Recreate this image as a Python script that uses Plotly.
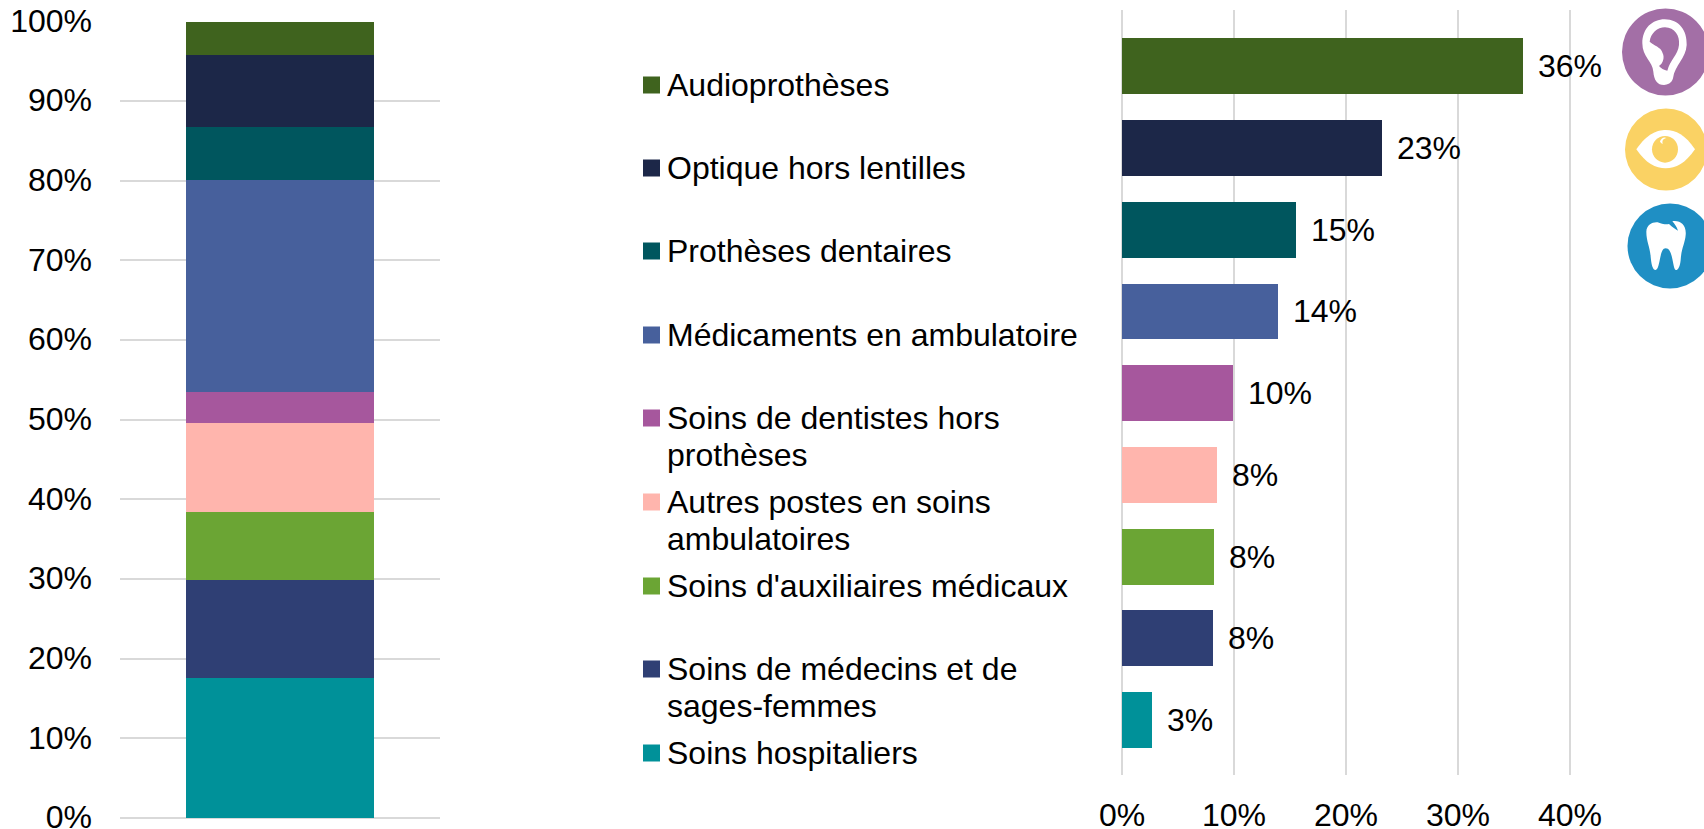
import plotly.graph_objects as go

W, H = 1704, 829
categories = ["Soins hospitaliers", "Soins de médecins et de<br>sages-femmes", "Soins d'auxiliaires médicaux",
              "Autres postes en soins<br>ambulatoires", "Soins de dentistes hors<br>prothèses",
              "Médicaments en ambulatoire", "Prothèses dentaires", "Optique hors lentilles", "Audioprothèses"]
stack_values = [17.7, 12.3, 8.5, 11.1, 4.0, 26.6, 6.6, 9.0, 4.2]
bar_values = [2.7, 8.15, 8.25, 8.5, 9.9, 13.9, 15.5, 23.2, 35.8]
bar_labels = ["3%", "8%", "8%", "8%", "10%", "14%", "15%", "23%", "36%"]
colors = ["#009199", "#2F3F74", "#6BA534", "#FFB5AD", "#A6579D", "#47609C", "#00565E", "#1C2748", "#3F631E"]
legend_y_px = [753, 669, 586, 502, 418, 335, 251, 168, 85]

FONT = "Liberation Sans, Arial, sans-serif"
FS = 32
LINE_PITCH = 37
GRID = "#D9D9D9"

def px(x): return x / W
def py(y): return 1 - y / H

fig = go.Figure()
for c, v, col in zip(categories, stack_values, colors):
    fig.add_trace(go.Bar(x=["a"], y=[v], marker_color=col, marker_line_width=0, width=0.59,
                         name=c.replace("<br>", " "), showlegend=False, xaxis="x", yaxis="y", hoverinfo="skip"))
fig.add_trace(go.Bar(x=bar_values, y=list(range(len(bar_values))), orientation="h",
                     marker_color=colors, marker_line_width=0, width=0.685,
                     showlegend=False, xaxis="x2", yaxis="y2", hoverinfo="skip"))

annotations = []
for i, (v, t) in enumerate(zip(bar_values, bar_labels)):
    annotations.append(dict(x=v, y=i, xref="x2", yref="y2", text=t, showarrow=False, xanchor="left",
                            yanchor="middle", xshift=13, font=dict(family=FONT, size=FS, color="#000000")))

shapes = []
for c, col, y in zip(categories, colors, legend_y_px):
    shapes.append(dict(type="rect", xref="paper", yref="paper", x0=px(643), x1=px(660), y0=py(y + 8.5), y1=py(y - 8.5),
                       fillcolor=col, line_width=0))
    for k, line in enumerate(c.split("<br>")):
        annotations.append(dict(x=px(666), y=py(y + k * LINE_PITCH), xref="paper", yref="paper", text=line,
                                showarrow=False, xanchor="left", yanchor="middle", align="left", borderpad=0,
                                font=dict(family=FONT, size=FS, color="#000000")))

def circle(cx, cy, r, col):
    shapes.append(dict(type="circle", xref="paper", yref="paper", x0=px(cx - r), x1=px(cx + r),
                       y0=py(cy + r), y1=py(cy - r), fillcolor=col, line_width=0, layer="above"))

def icon(d, col):
    # d: list of path commands with coordinates in the zoomed icon frame
    out = []
    for item in d:
        if isinstance(item, str):
            out.append(item)
        else:
            out.append(f"{px(1604 + item[0] / 3):.5f},{py(item[1] / 3):.5f}")
    shapes.append(dict(type="path", xref="paper", yref="paper", path=" ".join(out),
                       fillcolor=col, line_width=0, layer="above"))

circle(1665.5, 52, 43.5, "#A36FA6")
circle(1666, 149.5, 41, "#FAD264")
circle(1670, 246, 42.5, "#1F8FC4")

icon(["M", (115, 130), "C", (115, 85), (145, 58), (182, 58), "C", (225, 58), (250, 92), (248, 135),
      "C", (246, 175), (212, 195), (207, 235), "C", (203, 250), (190, 255), (180, 255),
      "C", (160, 255), (150, 240), (148, 215), "C", (146, 185), (115, 170), (115, 130), "Z"], "#FFFFFF")
icon(["M", (137, 125), "C", (140, 100), (160, 82), (183, 82), "C", (212, 82), (228, 108), (225, 135),
      "C", (222, 165), (198, 180), (190, 212), "C", (180, 210), (170, 205), (165, 198),
      "C", (178, 190), (182, 172), (176, 160), "C", (172, 145), (158, 140), (152, 136),
      "C", (148, 132), (142, 130), (137, 125), "Z"], "#A36FA6")

icon(["M", (97, 448), "C", (130, 400), (160, 390), (185, 390), "C", (215, 390), (245, 405), (273, 448),
      "C", (245, 490), (215, 505), (185, 505), "C", (155, 505), (125, 490), (97, 448), "Z"], "#FFFFFF")
icon(["M", (144, 448), "C", (144, 425), (162, 408), (183, 408), "C", (205, 408), (222, 425), (222, 448),
      "C", (222, 470), (205, 488), (183, 488), "C", (162, 488), (144, 470), (144, 448), "Z"], "#FAD264")
icon(["M", (168, 424), "C", (172, 414), (180, 410), (188, 414), "C", (178, 416), (174, 420), (176, 432),
      "C", (172, 430), (169, 428), (168, 424), "Z"], "#FFFFFF")

icon(["M", (127, 695), "C", (128, 672), (150, 664), (165, 668), "C", (178, 672), (185, 674), (195, 672),
      "C", (205, 682), (215, 688), (222, 692), "C", (218, 680), (212, 672), (205, 664),
      "C", (228, 660), (248, 675), (245, 705), "C", (243, 730), (232, 745), (230, 780),
      "C", (228, 800), (222, 812), (215, 810), "C", (205, 805), (208, 745), (185, 745),
      "C", (165, 745), (170, 805), (155, 810), "C", (145, 810), (142, 790), (140, 770),
      "C", (138, 740), (127, 725), (127, 695), "Z"], "#FFFFFF")

fig.update_layout(
    width=W, height=H, margin=dict(l=0, r=0, t=0, b=0), paper_bgcolor="#FFFFFF", plot_bgcolor="#FFFFFF",
    barmode="stack", bargap=0, font=dict(family=FONT, size=FS, color="#000000"),
    xaxis=dict(domain=[px(120), px(440)], anchor="y", automargin=False, showticklabels=False, showgrid=False,
               zeroline=False, showline=False, ticks=""),
    yaxis=dict(domain=[py(818), py(21.5)], anchor="x", automargin=False, range=[0, 100], tickmode="array",
               tickvals=list(range(0, 101, 10)), ticktext=[f"{v}%" for v in range(0, 101, 10)],
               showgrid=True, gridcolor=GRID, gridwidth=2, zeroline=True, zerolinecolor=GRID, zerolinewidth=2,
               showline=False, ticks="", ticklabelstandoff=27, ticklabeloverflow="allow", ticklabelshift=-1,
               tickfont=dict(family=FONT, size=FS, color="#000000")),
    xaxis2=dict(domain=[px(1122), px(1626)], anchor="y2", automargin=False, range=[0, 45], tickmode="array",
                tickvals=[0, 10, 20, 30, 40], ticktext=["0%", "10%", "20%", "30%", "40%"],
                showgrid=True, gridcolor=GRID, gridwidth=2, zeroline=True, zerolinecolor=GRID, zerolinewidth=2,
                showline=False, ticks="", ticklabelstandoff=18, ticklabeloverflow="allow",
                tickfont=dict(family=FONT, size=FS, color="#000000")),
    yaxis2=dict(domain=[py(775), py(10)], anchor="x2", automargin=False, range=[-0.673, 8.69], showticklabels=False,
                showgrid=False, zeroline=False, showline=False, ticks=""),
    shapes=shapes, annotations=annotations,
)
fig.write_html("out.html", config={"displayModeBar": False},
               post_script="document.body.style.margin='0';document.body.style.overflow='hidden';")
